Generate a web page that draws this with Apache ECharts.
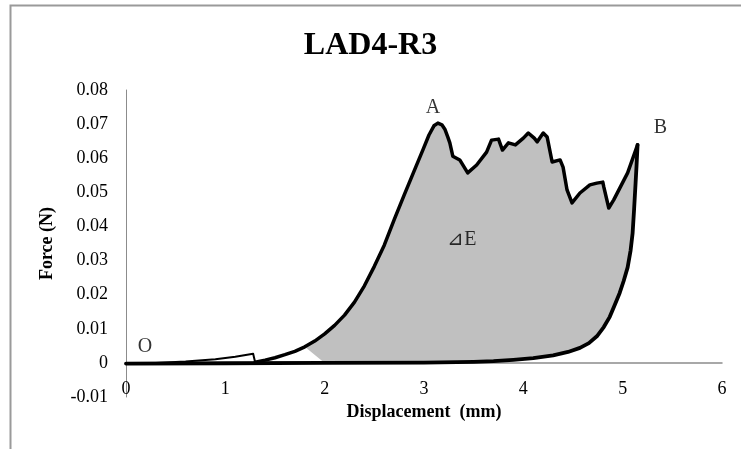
<!DOCTYPE html>
<html>
<head>
<meta charset="utf-8">
<script src="https://cdn.jsdelivr.net/npm/echarts@6/dist/echarts.min.js"></script>
<style>
  html, body { margin: 0; padding: 0; background: #fff; }
  #chart { width: 741px; height: 449px; }
</style>
</head>
<body>
<div id="chart"></div>
<script>
// Loading path: displacement (mm) and force (N), from O through A up to B
const loadX = [0, 0.3, 0.6, 0.9, 1.1, 1.28, 1.30, 1.40, 1.50, 1.60, 1.70, 1.80, 1.90, 2.00, 2.10, 2.20, 2.30, 2.40,
  2.50, 2.60, 2.70, 2.80, 2.90, 2.99, 3.05, 3.10, 3.14, 3.18, 3.21, 3.24, 3.26, 3.29, 3.36, 3.44, 3.53, 3.63,
  3.68, 3.75, 3.79, 3.85, 3.92, 4.00, 4.05, 4.11, 4.14, 4.20, 4.24, 4.29, 4.37, 4.40, 4.44, 4.49, 4.57, 4.67,
  4.74, 4.80, 4.81, 4.86, 4.91, 5.05, 5.15];
const loadY = [0, 0, 0.0004, 0.0011, 0.0018, 0.0027, 0.0002, 0.0008, 0.0015, 0.0024, 0.0034, 0.0047, 0.0064, 0.0085, 0.0110, 0.0140, 0.0178, 0.0226,
  0.0283, 0.0345, 0.0420, 0.0492, 0.0562, 0.0625, 0.0668, 0.0695, 0.0703, 0.0698, 0.0685, 0.0662, 0.0645, 0.0606, 0.0595, 0.0557, 0.0580, 0.0618,
  0.0653, 0.0656, 0.0624, 0.0645, 0.0639, 0.0659, 0.0674, 0.0659, 0.0648, 0.0674, 0.0662, 0.0589, 0.0595, 0.0574, 0.0507, 0.0469, 0.0498, 0.0522,
  0.0527, 0.0530, 0.0516, 0.0454, 0.0478, 0.0557, 0.0639];

// Unloading path: from B back down to the origin
const unloadX = [5.15, 5.14, 5.13, 5.115, 5.10, 5.08, 5.05, 5.01, 4.97, 4.92, 4.87, 4.81, 4.74, 4.66, 4.57, 4.45, 4.30, 4.10, 3.90, 3.70, 3.50, 3.00, 2.00, 1.00, 0];
const unloadY = [0.0639, 0.0580, 0.0527, 0.0450, 0.0380, 0.0330, 0.0280, 0.0240, 0.0205, 0.0170, 0.0135, 0.0105, 0.0078, 0.0058, 0.0044, 0.0032, 0.0022, 0.0014, 0.0009, 0.0005, 0.0003, 0.0001, 0, -0.0001, -0.0002];

// Displacement of the small slip at the start of loading
const slipX = 1.30;

// Hysteresis region (energy loss) starts where the loading curve lifts off
const fillFrom = 1.8;

// Point annotations
const noteNames = ['O', 'A', 'B', '\u22BFE'];
const noteX = [0.19, 3.09, 5.38, 3.38];
const noteY = [0.0047, 0.0747, 0.0689, 0.036];

// Axis ranges
const xMin = 0, xMax = 6, xStep = 1;
const yMin = -0.01, yMax = 0.08, yStep = 0.01;

const serif = "'Liberation Serif', 'Times New Roman', serif";

const pairs = (xs, ys) => xs.map((x, i) => [x, ys[i]]);
const loadPairs = pairs(loadX, loadY);
const toeLoad = loadPairs.filter(p => p[0] <= slipX);
const mainLoad = loadPairs.filter(p => p[0] >= slipX);

// Closed polygon: loading curve forward, unloading curve back
const loopPts = [];
loadX.forEach((x, i) => { if (x >= fillFrom) loopPts.push([x, loadY[i]]); });
unloadX.forEach((x, i) => { if (x >= fillFrom && i > 0) loopPts.push([x, unloadY[i]]); });

const chart = echarts.init(document.getElementById('chart'), null, { renderer: 'canvas' });

const curveStyle = w => ({ color: '#000', width: w, join: 'round', cap: 'round' });

chart.setOption({
  animation: false,
  backgroundColor: '#fff',
  graphic: [{
    type: 'rect',
    shape: { x: 10.5, y: 5.5, width: 800, height: 500 },
    style: { fill: 'none', stroke: '#9a9a9a', lineWidth: 2 },
    silent: true, z: 0
  }],
  title: {
    text: 'LAD4-R3',
    left: 'center',
    top: 25,
    textStyle: { fontFamily: serif, fontWeight: 'bold', fontSize: 32, color: '#000' }
  },
  grid: { left: 126, right: 19, top: 90, bottom: 52, outerBoundsMode: 'none' },
  xAxis: {
    type: 'value', min: xMin, max: xMax, interval: xStep,
    position: 'bottom',
    offset: -34,
    axisLine: { onZero: false, lineStyle: { color: '#8c8c8c', width: 1.5 } },
    axisTick: { show: false },
    splitLine: { show: false },
    axisLabel: { margin: 17, fontFamily: serif, fontSize: 18, color: '#000' },
    name: 'Displacement  (mm)',
    nameLocation: 'middle',
    nameGap: 40,
    nameTextStyle: { fontFamily: serif, fontWeight: 'bold', fontSize: 18, color: '#000' }
  },
  yAxis: {
    type: 'value', min: yMin, max: yMax, interval: yStep,
    axisLine: { show: true, onZero: false, lineStyle: { color: '#8c8c8c', width: 1 } },
    axisTick: { show: false },
    splitLine: { show: false },
    axisLabel: {
      margin: 18, fontFamily: serif, fontSize: 18, color: '#000',
      formatter: v => Math.abs(v) < 1e-9 ? '0' : v.toFixed(2)
    },
    name: 'Force (N)',
    nameLocation: 'middle',
    nameGap: 70,
    nameTextStyle: { fontFamily: serif, fontWeight: 'bold', fontSize: 18, color: '#000' }
  },
  series: [
    {
      type: 'custom',
      silent: true,
      z: 1,
      data: [[0, 0]],
      renderItem: (params, api) => ({
        type: 'polygon',
        shape: { points: loopPts.map(p => api.coord(p)) },
        style: { fill: '#c0c0c0' }
      })
    },
    {
      type: 'line',
      data: pairs(unloadX, unloadY),
      symbol: 'none',
      z: 3,
      lineStyle: curveStyle(3.8)
    },
    {
      type: 'line',
      data: toeLoad,
      symbol: 'none',
      z: 3,
      lineStyle: curveStyle(2)
    },
    {
      type: 'line',
      data: mainLoad,
      symbol: 'none',
      z: 3,
      lineStyle: curveStyle(3.5)
    },
    {
      type: 'scatter',
      z: 4,
      symbolSize: 1,
      itemStyle: { color: 'rgba(0,0,0,0)' },
      label: {
        show: true, position: 'inside',
        formatter: p => p.name,
        fontFamily: serif, fontSize: 20, color: '#000'
      },
      data: noteNames.map((n, i) => ({ name: n, value: [noteX[i], noteY[i]] }))
    }
  ]
});
</script>
</body>
</html>
